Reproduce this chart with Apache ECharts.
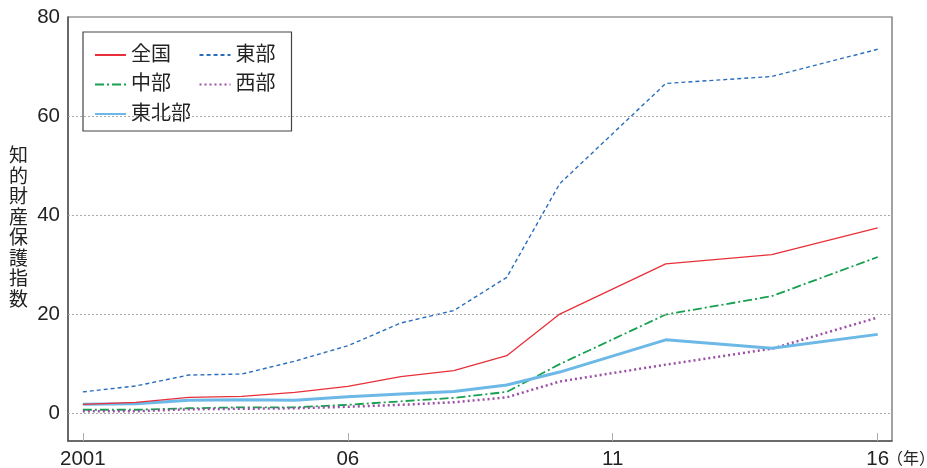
<!DOCTYPE html>
<html>
<head>
<meta charset="utf-8">
<script src="https://cdn.jsdelivr.net/npm/echarts@6/dist/echarts.min.js"></script>
<style>
  html, body { margin: 0; padding: 0; background: #fff; }
  #chart { width: 927px; height: 468px; }
</style>
</head>
<body>
<div id="chart"></div>
<script>
  // 年（2011・13・15 はデータなし）
  const years = [2001, 2002, 2003, 2004, 2005, 2006, 2007, 2008, 2009, 2010, 2012, 2014, 2016];
  const national = [1.9, 2.3, 3.3, 3.5, 4.3, 5.5, 7.5, 8.7, 11.7, 20.1, 30.2, 32.1, 37.5];
  const east = [4.4, 5.6, 7.8, 8.0, 10.6, 13.7, 18.3, 20.8, 27.5, 46.4, 66.6, 68.0, 73.5];
  const central = [0.8, 0.8, 1.1, 1.3, 1.3, 1.8, 2.5, 3.2, 4.4, 10.0, 20.0, 23.7, 31.6];
  const west = [0.5, 0.5, 0.9, 1.0, 1.1, 1.4, 1.8, 2.3, 3.3, 6.5, 9.9, 13.1, 19.4];
  const northeast = [1.9, 2.0, 2.7, 2.8, 2.7, 3.4, 4.0, 4.5, 5.8, 8.4, 14.9, 13.2, 16.0];

  const xTickValues = [2001, 2006, 2011, 2016];
  const xTickLabels = ['2001', '06', '11', '16'];
  const yTickValues = [0, 20, 40, 60, 80];
  const gridValues = [0, 20, 40, 60];

  const font = '"Liberation Sans", "Noto Sans CJK JP", sans-serif';
  const pair = (vals) => years.map((y, i) => [y, vals[i]]);

  const chart = echarts.init(document.getElementById('chart'));

  const option = {
    animation: false,
    textStyle: { fontFamily: font },
    grid: {
      left: 68, right: 35, top: 17, bottom: 27,
      outerBoundsMode: 'none',
      show: true, borderColor: '#666', borderWidth: 1.2
    },
    legend: {
      left: 83, top: 32,
      width: 185,
      orient: 'horizontal',
      padding: [12.5, 16, 6.5, 11],
      itemWidth: 31, itemHeight: 14, itemGap: 8.5,
      borderColor: '#444', borderWidth: 1.2,
      itemStyle: { opacity: 0 },
      textStyle: { fontSize: 20, color: '#222', lineHeight: 21, fontFamily: font },
      data: [
        { name: '全国', textStyle: { width: 59 } },
        { name: '東部' },
        { name: '中部', textStyle: { width: 59 } },
        { name: '西部' },
        { name: '東北部' }
      ]
    },
    xAxis: {
      type: 'value',
      min: 2000.72, max: 2016.27,
      name: '（年）',
      nameLocation: 'end',
      nameGap: -5,
      nameMoveOverlap: false,
      nameTextStyle: { fontSize: 16, color: '#222', verticalAlign: 'top', padding: [11, 0, 0, 0] },
      axisLine: { onZero: false, lineStyle: { color: '#555', width: 1.5 } },
      axisTick: { customValues: xTickValues, inside: true, length: 8, lineStyle: { color: '#aaa' } },
      axisLabel: {
        customValues: xTickValues,
        fontSize: 20.5, color: '#222', margin: 8,
        formatter: (v) => xTickLabels[xTickValues.indexOf(v)]
      },
      splitLine: { show: false }
    },
    yAxis: {
      type: 'value',
      min: -5.5, max: 80,
      name: '知\n的\n財\n産\n保\n護\n指\n数',
      nameLocation: 'middle',
      nameRotate: 0,
      nameGap: 40,
      nameMoveOverlap: false,
      nameTextStyle: { fontSize: 19, color: '#222', lineHeight: 20.5 },
      axisLine: { onZero: false, lineStyle: { color: '#555', width: 1.5 } },
      axisTick: { show: false },
      axisLabel: { customValues: yTickValues, fontSize: 20.5, color: '#222', margin: 8 },
      splitLine: { show: false }
    },
    series: [
      {
        name: '全国', type: 'line', symbol: 'none', z: 5,
        data: pair(national),
        lineStyle: { color: '#e8303a', width: 1.3 },
        itemStyle: { color: '#e8303a' },
        markLine: {
          silent: true, symbol: 'none', label: { show: false },
          lineStyle: { color: '#aaa', type: [2, 2], width: 1 },
          data: gridValues.map((v) => ({ yAxis: v }))
        }
      },
      {
        name: '東部', type: 'line', symbol: 'none',
        data: pair(east),
        lineStyle: { color: '#2a6ebb', width: 1.4, type: [4, 3] },
        itemStyle: { color: '#2a6ebb' }
      },
      {
        name: '中部', type: 'line', symbol: 'none',
        data: pair(central),
        lineStyle: { color: '#17a050', width: 1.8, type: [9, 3, 2, 3] },
        itemStyle: { color: '#17a050' }
      },
      {
        name: '西部', type: 'line', symbol: 'none',
        data: pair(west),
        lineStyle: { color: '#9b4ea6', width: 2.5, type: [2, 3] },
        itemStyle: { color: '#9b4ea6' }
      },
      {
        name: '東北部', type: 'line', symbol: 'none', z: 4,
        data: pair(northeast),
        lineStyle: { color: '#6cb8e6', width: 3 },
        itemStyle: { color: '#6cb8e6' }
      }
    ]
  };

  chart.setOption(option);
</script>
</body>
</html>
